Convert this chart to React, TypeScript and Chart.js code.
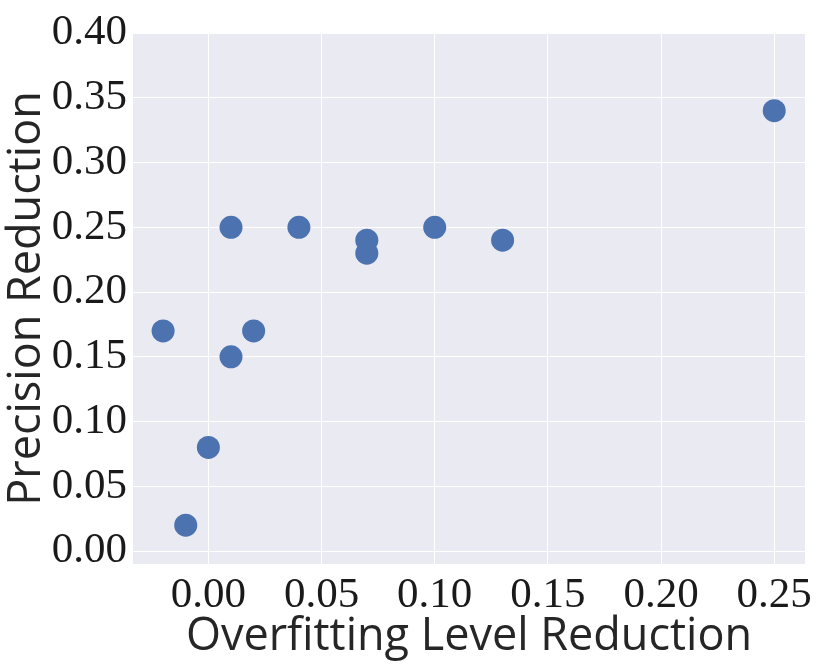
import React, { useEffect, useRef } from "react";
import { Chart, registerables } from "chart.js";

Chart.register(...registerables);

const overfitReduction = [-0.02, -0.01, 0.0, 0.01, 0.01, 0.02, 0.04, 0.07, 0.07, 0.1, 0.13, 0.25];
const precisionReduction = [0.17, 0.02, 0.08, 0.25, 0.15, 0.17, 0.25, 0.24, 0.23, 0.25, 0.24, 0.34];
const xTickValues = [0.0, 0.05, 0.1, 0.15, 0.2, 0.25];
const yTickValues = [0.0, 0.05, 0.1, 0.15, 0.2, 0.25, 0.3, 0.35, 0.4];
const xTitle = "Overfitting Level Reduction";
const yTitle = "Precision Reduction";

const tickFont = { family: "'Liberation Serif', serif", size: 43 };
const titleFont = { family: "'Open Sans', sans-serif", size: 45 };

export default function App() {
  const ref = useRef<HTMLCanvasElement | null>(null);
  useEffect(() => {
    document.body.style.margin = "0";
    const points = overfitReduction.map((x, i) => ({ x, y: precisionReduction[i] }));
    const chart = new Chart(ref.current!, {
      type: "scatter",
      data: {
        datasets: [
          {
            data: points,
            backgroundColor: "#4C72B0",
            borderColor: "#4C72B0",
            borderWidth: 0,
            pointRadius: 11.5,
          },
        ],
      },
      options: {
        animation: false,
        responsive: false,
        layout: { padding: { top: 33, right: 25, left: 0, bottom: 0 } },
        plugins: { legend: { display: false }, tooltip: { enabled: false } },
        scales: {
          x: {
            type: "linear",
            min: -0.0333,
            max: 0.2636,
            afterBuildTicks: (s: any) => {
              s.ticks = xTickValues.map((v) => ({ value: v }));
            },
            afterFit: (s: any) => {
              s.height = 100;
            },
            grid: { color: "#ffffff", lineWidth: 1, drawTicks: false },
            border: { display: false },
            ticks: {
              font: tickFont,
              color: "#1a1a1a",
              padding: 6,
              maxRotation: 0,
              callback: (v: any) => Number(v).toFixed(2),
            },
            title: {
              display: true,
              text: xTitle,
              font: titleFont,
              color: "#262626",
              padding: { top: 0, bottom: 0 },
            },
          },
          y: {
            type: "linear",
            min: -0.01,
            max: 0.4,
            afterBuildTicks: (s: any) => {
              s.ticks = yTickValues.map((v) => ({ value: v }));
            },
            afterFit: (s: any) => {
              s.width = 133;
            },
            grid: { color: "#ffffff", lineWidth: 1, drawTicks: false },
            border: { display: false },
            ticks: {
              font: tickFont,
              color: "#1a1a1a",
              padding: 6,
              callback: (v: any) => Number(v).toFixed(2),
            },
            title: {
              display: true,
              text: yTitle,
              font: titleFont,
              color: "#262626",
              padding: { top: 0, bottom: 0 },
            },
          },
        },
      },
      plugins: [
        {
          id: "bg",
          beforeDraw: (c: any) => {
            const { ctx, chartArea: a } = c;
            ctx.save();
            ctx.fillStyle = "#EAEAF2";
            ctx.fillRect(a.left, a.top, a.right - a.left, a.bottom - a.top);
            ctx.restore();
          },
        },
      ],
    } as any);
    return () => chart.destroy();
  }, []);
  return (
    <div style={{ position: "absolute", left: 0, top: 0, width: 830, height: 664, background: "#fff" }}>
      <canvas ref={ref} width={830} height={664} style={{ width: 830, height: 664 }} />
    </div>
  );
}
